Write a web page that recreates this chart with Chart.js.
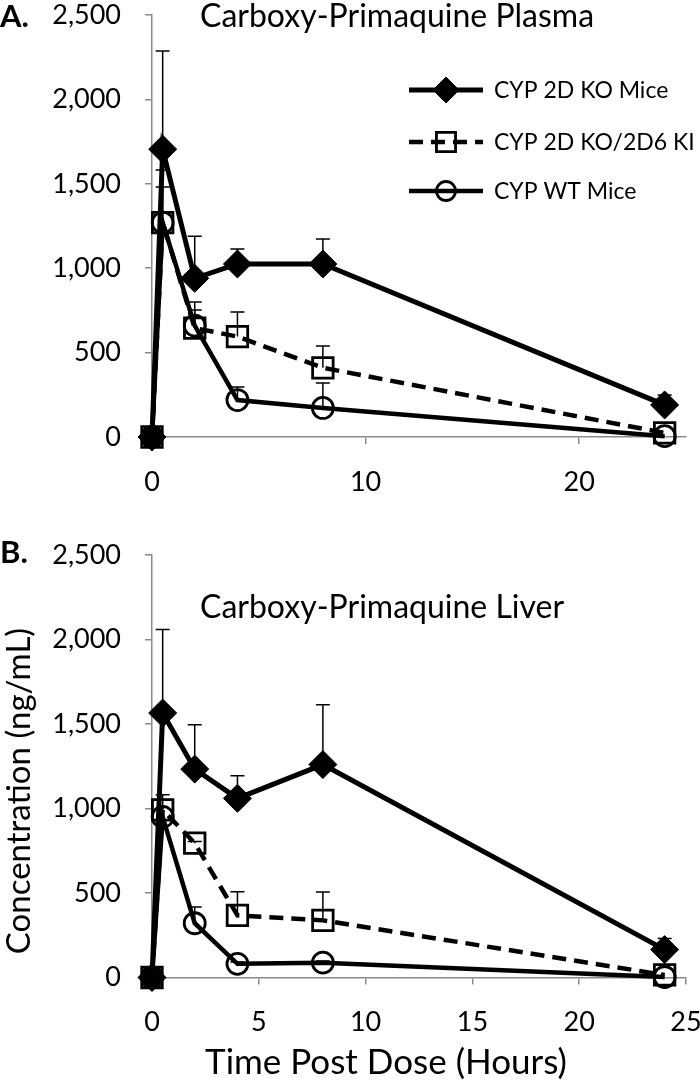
<!DOCTYPE html>
<html>
<head>
<meta charset="utf-8">
<script src="https://cdn.jsdelivr.net/npm/chart.js@4.4.0/dist/chart.umd.min.js"></script>
<style>
  body { margin: 0; background: #fff; width: 700px; height: 1082px; overflow: hidden; }
  .panel { position: absolute; left: 0; width: 700px; }
  #pa { top: 0; height: 500px; }
  #pb { top: 500px; height: 582px; }
</style>
</head>
<body>
<div class="panel" id="pa"><canvas id="plasma"></canvas></div>
<div class="panel" id="pb"><canvas id="liver"></canvas></div>
<script>
// time points (hours post dose)
var hours = [0, 0.5, 2, 4, 8, 24];
var seriesNames = ['CYP 2D KO Mice', 'CYP 2D KO/2D6 KI', 'CYP WT Mice'];
var yTicks = [0, 500, 1000, 1500, 2000, 2500];

// A. plasma, mean and SD (ng/mL)
var plasmaKO = [0, 1705, 940, 1025, 1025, 190];
var plasmaKOsd = [0, 582, 250, 89, 148, 59];
var plasmaKI = [0, 1270, 645, 595, 410, 24];
var plasmaKIsd = [0, 312, 155, 146, 129, 0];
var plasmaWT = [0, 1270, 660, 219, 172, 5];
var plasmaWTsd = [0, 211, 92, 77, 148, 0];

// B. liver
var liverKO = [0, 1565, 1233, 1060, 1260, 165];
var liverKOsd = [0, 494, 262, 134, 354, 66];
var liverKI = [0, 992, 795, 368, 338, 15];
var liverKIsd = [0, 89, 10, 140, 168, 0];
var liverWT = [0, 950, 321, 81, 88, 3];
var liverWTsd = [0, 0, 96, 10, 10, 0];

var FONT = 'Lato, "Open Sans", sans-serif';
var AXIS_GREY = '#8a8a8a';

var styles = [
  { pointStyle: 'rectRot', pointRadius: 14, backgroundColor: '#000', borderWidth: 5, pointBorderWidth: 1, borderDash: [] },
  { pointStyle: 'rect', pointRadius: 14.5, backgroundColor: 'rgba(0,0,0,0)', borderWidth: 4.5, pointBorderWidth: 2.8, borderDash: [14, 8] },
  { pointStyle: 'circle', pointRadius: 10.5, backgroundColor: 'rgba(0,0,0,0)', borderWidth: 4.5, pointBorderWidth: 2.8, borderDash: [] }
];

function makeDataset(i, values, sd) {
  var s = styles[i];
  return {
    label: seriesNames[i],
    data: hours.map(function (h, k) { return { x: h, y: values[k] }; }),
    sd: sd,
    borderColor: '#000',
    borderWidth: s.borderWidth,
    borderDash: s.borderDash,
    pointStyle: s.pointStyle,
    pointRadius: s.pointRadius,
    pointHoverRadius: s.pointRadius,
    pointBackgroundColor: s.backgroundColor,
    pointBorderColor: '#000',
    pointBorderWidth: s.pointBorderWidth,
    tension: 0,
    fill: false,
    clip: false
  };
}

// upper error bars (mean + SD)
var errorBars = {
  id: 'errorBars',
  beforeDatasetsDraw: function (chart) {
    var ctx = chart.ctx, xs = chart.scales.x, ys = chart.scales.y;
    ctx.save();
    ctx.strokeStyle = '#000';
    ctx.lineWidth = 1.5;
    chart.data.datasets.forEach(function (ds) {
      ds.data.forEach(function (p, k) {
        var sd = ds.sd[k];
        if (!sd) return;
        var px = xs.getPixelForValue(p.x);
        var y0 = ys.getPixelForValue(p.y);
        var y1 = ys.getPixelForValue(p.y + sd);
        ctx.beginPath();
        ctx.moveTo(px, y0); ctx.lineTo(px, y1);
        ctx.moveTo(px - 7, y1); ctx.lineTo(px + 7, y1);
        ctx.stroke();
      });
    });
    ctx.restore();
  }
};

// panel letter, inner title, legend and axis titles
function panelText(cfg) {
  return {
    id: 'panelText',
    afterDraw: function (chart) {
      var ctx = chart.ctx, area = chart.chartArea;
      ctx.save();
      ctx.fillStyle = '#000';
      ctx.textBaseline = 'alphabetic';
      ctx.textAlign = 'left';
      ctx.font = 'bold 31px ' + FONT;
      ctx.fillText(cfg.letter, 0, cfg.letterY);
      ctx.font = '32px ' + FONT;
      ctx.fillText(cfg.title, area.left + 48, cfg.titleY);

      if (cfg.legend) {
        var lx = area.left + 257;
        chart.data.datasets.forEach(function (ds, i) {
          var y = area.top + [75, 127, 176][i];
          ctx.save();
          ctx.strokeStyle = '#000';
          ctx.lineWidth = ds.borderWidth;
          ctx.setLineDash(ds.borderDash);
          ctx.beginPath();
          ctx.moveTo(lx, y); ctx.lineTo(lx + 74, y);
          ctx.stroke();
          ctx.setLineDash([]);
          ctx.fillStyle = ds.pointBackgroundColor;
          ctx.strokeStyle = '#000';
          ctx.lineWidth = ds.pointBorderWidth;
          Chart.helpers.drawPoint(ctx, {
            pointStyle: ds.pointStyle, radius: ds.pointRadius - 1, borderWidth: ds.pointBorderWidth, rotation: 0
          }, lx + 37, y);
          ctx.restore();
          ctx.font = '23px ' + FONT;
          ctx.textBaseline = 'middle';
          ctx.fillText(ds.label, lx + 85, y + 1);
        });
      }

      if (cfg.yTitle) {
        ctx.save();
        ctx.translate(19, cfg.yTitleY);
        ctx.rotate(-Math.PI / 2);
        ctx.font = '33px ' + FONT;
        ctx.textAlign = 'center';
        ctx.textBaseline = 'middle';
        ctx.fillText(cfg.yTitle, 0, 0);
        ctx.restore();
      }
      if (cfg.xTitle) {
        ctx.font = '35px ' + FONT;
        ctx.textAlign = 'center';
        ctx.textBaseline = 'alphabetic';
        ctx.fillText(cfg.xTitle, 386, cfg.xTitleY);
      }
      ctx.restore();
    }
  };
}

function makeOptions(xStep, xHeight, topPad) {
  return {
    responsive: true,
    maintainAspectRatio: false,
    animation: false,
    events: [],
    layout: { autoPadding: false, padding: { top: topPad, right: 14, left: 0, bottom: 0 } },
    plugins: { legend: { display: false }, tooltip: { enabled: false } },
    scales: {
      x: {
        type: 'linear',
        min: 0,
        max: 25,
        afterBuildTicks: function (axis) {
          axis.ticks = axis.ticks.filter(function (t) { return t.value % xStep === 0; });
        },
        afterFit: function (axis) {
          axis.height = xHeight;
          axis.paddingLeft = 0;
          axis.paddingRight = 0;
        },
        ticks: { stepSize: xStep, padding: 22, color: '#000', font: { family: FONT, size: 27 } },
        grid: { drawOnChartArea: false, drawTicks: true, tickLength: 7, color: AXIS_GREY, lineWidth: 1.5 },
        border: { color: AXIS_GREY, width: 1.5 }
      },
      y: {
        min: 0,
        max: 2500,
        afterBuildTicks: function (axis) {
          axis.ticks = yTicks.map(function (v) { return { value: v }; });
        },
        afterFit: function (axis) {
          axis.width = 152;
          axis.paddingTop = 0;
          axis.paddingBottom = 0;
        },
        ticks: {
          padding: 24, color: '#000', font: { family: FONT, size: 27 },
          callback: function (v) { return v.toLocaleString('en-US'); }
        },
        grid: { drawOnChartArea: false, drawTicks: true, tickLength: 7, color: AXIS_GREY, lineWidth: 1.5 },
        border: { color: AXIS_GREY, width: 1.5 }
      }
    }
  };
}

new Chart(document.getElementById('plasma'), {
  type: 'line',
  data: {
    datasets: [
      makeDataset(0, plasmaKO, plasmaKOsd),
      makeDataset(1, plasmaKI, plasmaKIsd),
      makeDataset(2, plasmaWT, plasmaWTsd)
    ]
  },
  options: makeOptions(10, 63, 15),
  plugins: [errorBars, panelText({
    letter: 'A.', letterY: 27, title: 'Carboxy-Primaquine Plasma', titleY: 27, legend: true
  })]
});

new Chart(document.getElementById('liver'), {
  type: 'line',
  data: {
    datasets: [
      makeDataset(0, liverKO, liverKOsd),
      makeDataset(1, liverKI, liverKIsd),
      makeDataset(2, liverWT, liverWTsd)
    ]
  },
  options: makeOptions(5, 104.5, 55),
  plugins: [errorBars, panelText({
    letter: 'B.', letterY: 63, title: 'Carboxy-Primaquine Liver', titleY: 118,
    yTitle: 'Concentration (ng/mL)', yTitleY: 291,
    xTitle: 'Time Post Dose (Hours)', xTitleY: 574
  })]
});
</script>
</body>
</html>
